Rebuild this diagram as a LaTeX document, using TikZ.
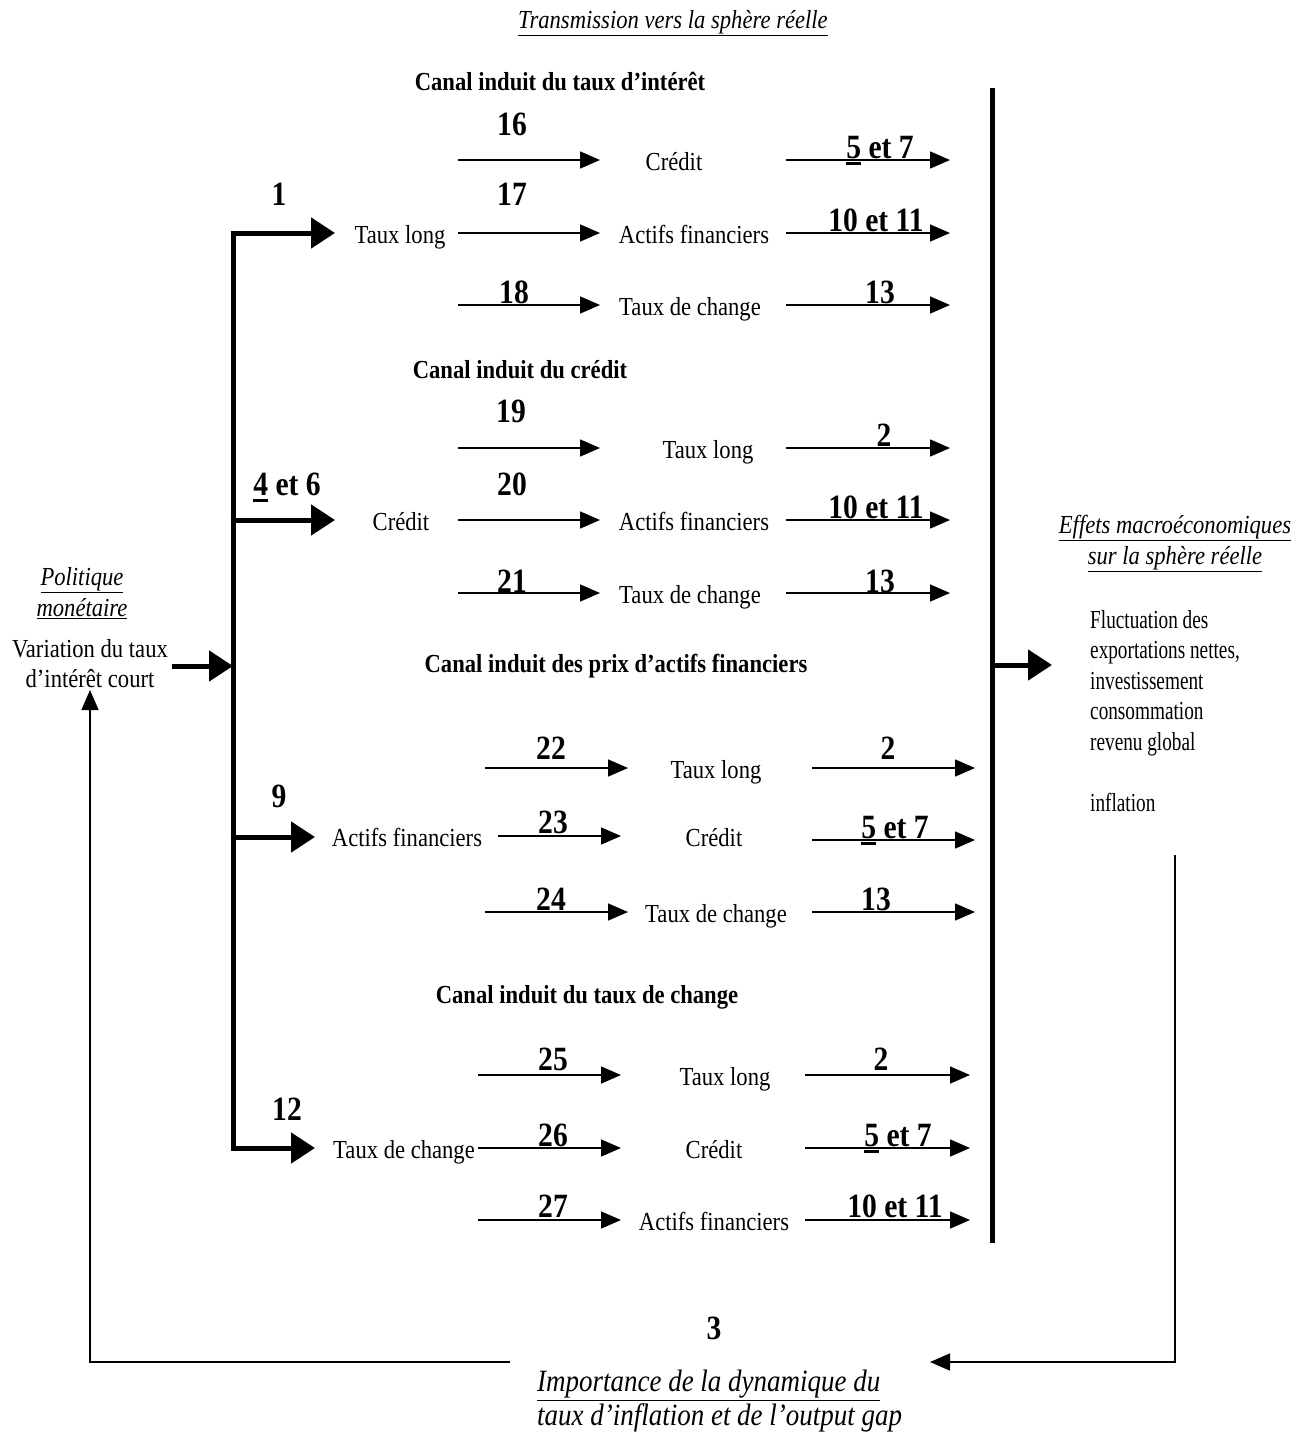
\documentclass[tikz,border=0pt]{standalone}
\usepackage{fontspec}
\setmainfont{Liberation Serif}[FakeStretch=0.87]
\usetikzlibrary{arrows.meta}
% heavy underline placed below the baseline, as used for some channel numbers
\newcommand{\thickul}[1]{\leavevmode\setbox0\hbox{#1}\rlap{\rule[-7pt]{\wd0}{3pt}}\box0\relax}

\begin{document}
\begin{tikzpicture}[x=1pt,y=-1pt,
  txt/.style={inner sep=0pt, font=\fontsize{26}{29}\selectfont, text height=18pt, text depth=6pt},
  num/.style={inner sep=0pt, font=\bfseries\fontsize{34}{36}\selectfont, text height=24pt, text depth=0pt},
  head/.style={inner sep=0pt, font=\bfseries\fontsize{26}{28}\selectfont, text height=17pt, text depth=6pt},
  ital/.style={inner sep=0pt, font=\itshape\fontsize{26}{31}\selectfont},
  block/.style={inner sep=0pt, font=\fontsize{26}{30.5}\selectfont},
  flow/.style={line width=1.5pt, -{Triangle[length=20pt,width=17pt]}},
  branch/.style={line width=5pt, -{Triangle[length=24pt,width=30pt]}},
  bus/.style={line width=5pt},
  loopend/.style={line width=1.4pt, -{Triangle[length=20pt,width=17pt]}},
]
\useasboundingbox (0,0) rectangle (1311,1432);

% ---------- titles ----------
\node[ital] (ttrans) at (673,23) {\underline{Transmission vers la sphère réelle}};
\node[ital, align=center, anchor=north] (tpol) at (82,567) {\underline{Politique}\\\underline{monétaire}};
\node[block, align=center, anchor=north] (var) at (90,639) {Variation du taux\\d’intérêt court};
\node[ital, align=center, anchor=north] (teff) at (1175,515) {\underline{Effets macroéconomiques}\\\underline{sur la sphère réelle}};
\node[block, align=left, anchor=north west,
      font=\addfontfeatures{FakeStretch=0.74}\fontsize{26}{30.5}\selectfont] (macro) at (1090,610)
  {Fluctuation des\\exportations nettes,\\investissement\\consommation\\revenu global\\[30.5pt]inflation};

% ---------- buses ----------
\coordinate (busLtop) at (233,230.5);
\coordinate (busLbot) at (233,1150.5);
\draw[bus] (busLtop) -- (busLbot);
\coordinate (busRtop) at (992,88);
\coordinate (busRbot) at (992,1243);
\draw[bus] (busRtop) -- (busRbot);

\coordinate (in0) at (172,666);
\coordinate (in1) at (233,666);
\draw[branch] (in0) -- (in1);
\coordinate (out0) at (992,665);
\coordinate (out1) at (1052,665);
\draw[branch] (out0) -- (out1);

% ---------- channel 1: taux d'interet ----------
\node[head] (h1) at (560,85) {Canal induit du taux d’intérêt};
\coordinate (b1s) at (230.5,233);
\coordinate (b1e) at (335,233);
\draw[branch] (b1s) -- (b1e);
\node[num] (n1) at (279,193) {1};
\node[txt] (g1src) at (400,237) {Taux long};

\node[txt] (g1a) at (674,164) {Crédit};
\node[txt] (g1b) at (694,237) {Actifs financiers};
\node[txt] (g1c) at (690,309) {Taux de change};

\coordinate (g1aL0) at (458,160); \coordinate (g1aL1) at (600,160);
\coordinate (g1bL0) at (458,233); \coordinate (g1bL1) at (600,233);
\coordinate (g1cL0) at (458,305); \coordinate (g1cL1) at (600,305);
\coordinate (g1aR0) at (786,160); \coordinate (g1aR1) at (950,160);
\coordinate (g1bR0) at (786,233); \coordinate (g1bR1) at (950,233);
\coordinate (g1cR0) at (786,305); \coordinate (g1cR1) at (950,305);
\foreach \r in {a,b,c} {
  \draw[flow] (g1\r L0) -- (g1\r L1);
  \draw[flow] (g1\r R0) -- (g1\r R1);
}
\node[num] (n16) at (512,123) {16};
\node[num] (n17) at (512,193) {17};
\node[num] (n18) at (514,291) {18};
\node[num] (n57a) at (880,146) {\thickul{5} et 7};
\node[num] (n1011a) at (876,219) {10 et 11};
\node[num] (n13a) at (880,291) {13};

% ---------- channel 2: credit ----------
\node[head] (h2) at (520,373) {Canal induit du crédit};
\coordinate (b2s) at (230.5,520);
\coordinate (b2e) at (335,520);
\draw[branch] (b2s) -- (b2e);
\node[num] (n46) at (287,483) {\thickul{4} et 6};
\node[txt] (g2src) at (401,524) {Crédit};

\node[txt] (g2a) at (708,452) {Taux long};
\node[txt] (g2b) at (694,524) {Actifs financiers};
\node[txt] (g2c) at (690,597) {Taux de change};

\coordinate (g2aL0) at (458,448); \coordinate (g2aL1) at (600,448);
\coordinate (g2bL0) at (458,520); \coordinate (g2bL1) at (600,520);
\coordinate (g2cL0) at (458,593); \coordinate (g2cL1) at (600,593);
\coordinate (g2aR0) at (786,448); \coordinate (g2aR1) at (950,448);
\coordinate (g2bR0) at (786,520); \coordinate (g2bR1) at (950,520);
\coordinate (g2cR0) at (786,593); \coordinate (g2cR1) at (950,593);
\foreach \r in {a,b,c} {
  \draw[flow] (g2\r L0) -- (g2\r L1);
  \draw[flow] (g2\r R0) -- (g2\r R1);
}
\node[num] (n19) at (511,410) {19};
\node[num] (n20) at (512,483) {20};
\node[num] (n21) at (512,580) {21};
\node[num] (n2b) at (884,434) {2};
\node[num] (n1011b) at (876,506) {10 et 11};
\node[num] (n13b) at (880,580) {13};

% ---------- channel 3: prix d'actifs financiers ----------
\node[head] (h3) at (616,667) {Canal induit des prix d’actifs financiers};
\coordinate (b3s) at (230.5,837);
\coordinate (b3e) at (315,837);
\draw[branch] (b3s) -- (b3e);
\node[num] (n9) at (279,795) {9};
\node[txt] (g3src) at (407,840) {Actifs financiers};

\node[txt] (g3a) at (716,772) {Taux long};
\node[txt] (g3b) at (714,840) {Crédit};
\node[txt] (g3c) at (716,916) {Taux de change};

\coordinate (g3aL0) at (485,768); \coordinate (g3aL1) at (628,768);
\coordinate (g3bL0) at (498,836); \coordinate (g3bL1) at (621,836);
\coordinate (g3cL0) at (485,912); \coordinate (g3cL1) at (628,912);
\coordinate (g3aR0) at (812,768); \coordinate (g3aR1) at (975,768);
\coordinate (g3bR0) at (812,840); \coordinate (g3bR1) at (975,840);
\coordinate (g3cR0) at (812,912); \coordinate (g3cR1) at (975,912);
\foreach \r in {a,b,c} {
  \draw[flow] (g3\r L0) -- (g3\r L1);
  \draw[flow] (g3\r R0) -- (g3\r R1);
}
\node[num] (n22) at (551,747) {22};
\node[num] (n23) at (553,821) {23};
\node[num] (n24) at (551,898) {24};
\node[num] (n2c) at (888,747) {2};
\node[num] (n57c) at (895,826) {\thickul{5} et 7};
\node[num] (n13c) at (876,898) {13};

% ---------- channel 4: taux de change ----------
\node[head] (h4) at (587,998) {Canal induit du taux de change};
\coordinate (b4s) at (230.5,1148);
\coordinate (b4e) at (315,1148);
\draw[branch] (b4s) -- (b4e);
\node[num] (n12) at (287,1108) {12};
\node[txt] (g4src) at (404,1152) {Taux de change};

\node[txt] (g4a) at (725,1079) {Taux long};
\node[txt] (g4b) at (714,1152) {Crédit};
\node[txt] (g4c) at (714,1224) {Actifs financiers};

\coordinate (g4aL0) at (478,1075); \coordinate (g4aL1) at (621,1075);
\coordinate (g4bL0) at (478,1148); \coordinate (g4bL1) at (621,1148);
\coordinate (g4cL0) at (478,1220); \coordinate (g4cL1) at (621,1220);
\coordinate (g4aR0) at (805,1075); \coordinate (g4aR1) at (970,1075);
\coordinate (g4bR0) at (805,1148); \coordinate (g4bR1) at (970,1148);
\coordinate (g4cR0) at (805,1220); \coordinate (g4cR1) at (970,1220);
\foreach \r in {a,b,c} {
  \draw[flow] (g4\r L0) -- (g4\r L1);
  \draw[flow] (g4\r R0) -- (g4\r R1);
}
\node[num] (n25) at (553,1058) {25};
\node[num] (n26) at (553,1134) {26};
\node[num] (n27) at (553,1205) {27};
\node[num] (n2d) at (881,1058) {2};
\node[num] (n57d) at (898,1134) {\thickul{5} et 7};
\node[num] (n1011d) at (895,1205) {10 et 11};

% ---------- feedback loop ----------
\node[num] (n3) at (714,1327) {3};
\node[ital, align=left, anchor=north west, font=\itshape\fontsize{31}{34}\selectfont] (imp) at (537,1370)
  {\underline{Importance de la dynamique du}\\\underline{taux d’inflation et de l’output gap}};

\coordinate (fbR0) at (1175,855);
\coordinate (fbR1) at (1175,1362);
\coordinate (fbR2) at (930,1362);
\draw[loopend] (fbR0) -- (fbR1) -- (fbR2);
\coordinate (fbL0) at (510,1362);
\coordinate (fbL1) at (90,1362);
\coordinate (fbL2) at (90,690);
\draw[loopend] (fbL0) -- (fbL1) -- (fbL2);
\end{tikzpicture}
\end{document}
